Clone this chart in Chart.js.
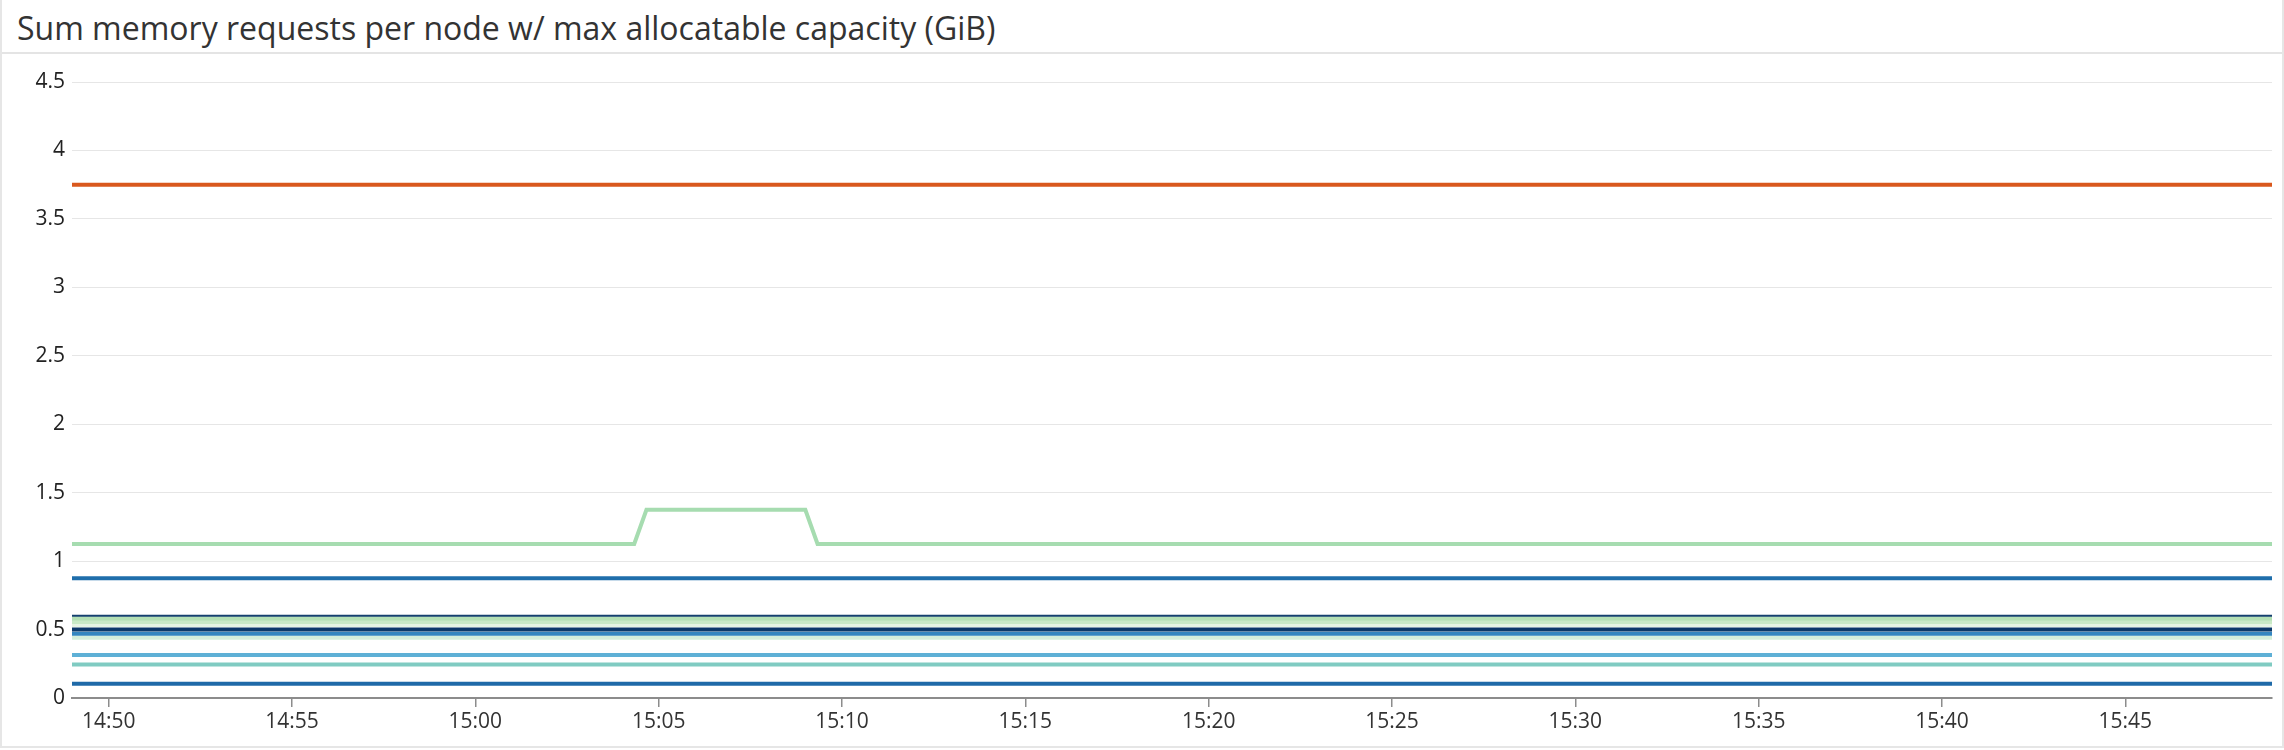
<!DOCTYPE html>
<html>
<head>
<meta charset="utf-8">
<script src="https://cdn.jsdelivr.net/npm/chart.js@4/dist/chart.umd.min.js"></script>
<style>
    html, body { margin: 0; padding: 0; background: #fff; }
    .panel {
        position: absolute; left: 0; top: 0;
        width: 2280px; height: 746px;
        border: 2px solid #e6e6e6; border-top: none;
        background: #fff;
    }
    .title {
        height: 52px; border-bottom: 2px solid #e4e4e4;
        font-family: "Open Sans", sans-serif; font-size: 32px; color: #333;
        line-height: 56px; padding-left: 15px; white-space: nowrap;
    }
    .plot { position: absolute; left: -2px; top: 54px; width: 2284px; height: 694px; }
</style>
</head>
<body>
<div class="panel">
    <div class="title">Sum memory requests per node w/ max allocatable capacity (GiB)</div>
    <div class="plot"><canvas id="memChart"></canvas></div>
</div>
<script>
// x tick labels and y ticks
const xTickLabels = ["14:50", "14:55", "15:00", "15:05", "15:10", "15:15", "15:20", "15:25", "15:30", "15:35", "15:40", "15:45"];
const yTicks = [0, 0.5, 1, 1.5, 2, 2.5, 3, 3.5, 4, 4.5];

// window shown
const windowStart = "14:49:00";
const windowEnd = "15:49:00";

// the one node that moved
const stepTimes = ["14:49:00", "15:04:20", "15:04:40", "15:09:00", "15:09:20", "15:49:00"];
const stepValues = [1.125, 1.125, 1.375, 1.375, 1.125, 1.125];

// flat nodes (GiB), held for the whole window
const nodeLevels = [3.75, 0.875, 0.60, 0.58, 0.555, 0.53, 0.5, 0.47, 0.44, 0.315, 0.245, 0.105];
const nodeColors = ["#d9581d", "#1f6eab", "#14406e", "#b3dfb4", "#c9eac6", "#e6f5e3", "#0d3a6a", "#3486c0", "#d4eedb", "#5eb0d6", "#80cbc2", "#1f6aa8"];
const nodeWidths = [4, 4, 2, 4, 4, 3, 4, 4, 4, 4, 4, 4];

function toMin(t) {
    const p = t.split(":").map(Number);
    return p[0] * 60 + p[1] + (p[2] || 0) / 60;
}
function fmt(v) {
    const h = Math.floor(v / 60), m = Math.round(v - h * 60);
    return h + ":" + String(m).padStart(2, "0");
}

const datasets = nodeLevels.map((lvl, i) => ({
    data: [windowStart, windowEnd].map(t => ({ x: toMin(t), y: lvl })),
    borderColor: nodeColors[i],
    borderWidth: nodeWidths[i],
    pointRadius: 0,
    order: i
}));
datasets.splice(1, 0, {
    data: stepTimes.map((t, i) => ({ x: toMin(t), y: stepValues[i] })),
    borderColor: "#a6dcb0",
    borderWidth: 4,
    pointRadius: 0,
    order: 1
});

const tickFont = { family: "'Open Sans', sans-serif", size: 21 };

new Chart(document.getElementById("memChart"), {
    type: "line",
    data: { datasets: datasets },
    options: {
        responsive: true,
        maintainAspectRatio: false,
        animation: false,
        layout: { padding: { top: 28, right: 12, left: 0, bottom: 0 } },
        plugins: { legend: { display: false }, tooltip: { enabled: false } },
        scales: {
            x: {
                type: "linear",
                min: toMin(windowStart),
                max: toMin(windowEnd),
                afterBuildTicks: s => { s.ticks = xTickLabels.map(t => ({ value: toMin(t) })); },
                afterFit: s => { s.height = 50; },
                ticks: {
                    autoSkip: false, maxRotation: 0, color: "#333",
                    font: tickFont, padding: 2,
                    callback: v => fmt(v)
                },
                grid: { drawOnChartArea: false, drawTicks: true, tickLength: 9, color: "#8c8c8c", lineWidth: 1.5 },
                border: { display: true, color: "#8c8c8c", width: 2 }
            },
            y: {
                min: 0,
                max: 4.5,
                afterBuildTicks: s => { s.ticks = yTicks.map(v => ({ value: v })); },
                afterFit: s => { s.width = 72; },
                ticks: {
                    color: "#222", font: tickFont, padding: 7,
                    callback: v => String(v)
                },
                grid: { color: "#e6e6e6", lineWidth: 1, drawTicks: false },
                border: { display: false }
            }
        }
    }
});
</script>
</body>
</html>
